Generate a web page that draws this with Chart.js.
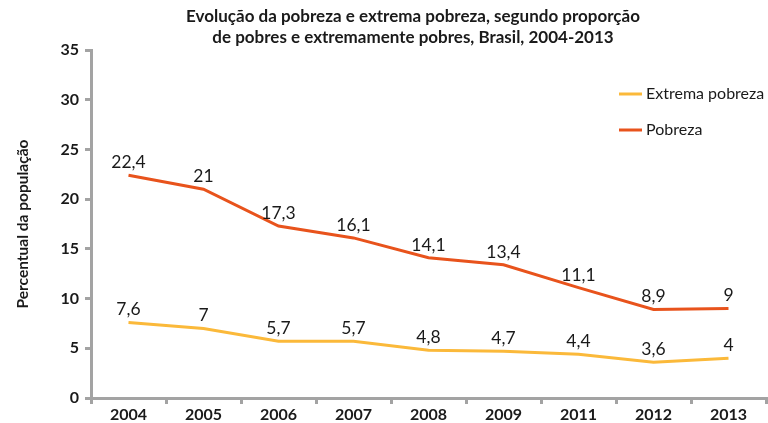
<!DOCTYPE html>
<html>
<head>
<meta charset="utf-8">
<script src="https://cdn.jsdelivr.net/npm/chart.js@4/dist/chart.umd.min.js"></script>
<style>
  body { margin: 0; background: #fff; }
  #wrap { width: 768px; height: 423px; }
</style>
</head>
<body>
<div id="wrap"><canvas id="povertyChart"></canvas></div>
<script>
// Data
const years = ['2004', '2005', '2006', '2007', '2008', '2009', '2011', '2012', '2013'];
const extremaPobreza = [7.6, 7, 5.7, 5.7, 4.8, 4.7, 4.4, 3.6, 4];
const pobreza = [22.4, 21, 17.3, 16.1, 14.1, 13.4, 11.1, 8.9, 9];
const titleLines = [
    'Evolução da pobreza e extrema pobreza, segundo proporção',
    'de pobres e extremamente pobres, Brasil, 2004-2013'
];

const FONT = 'Lato, "Open Sans", sans-serif';
const AXIS_GREY = '#a3a3a3';

// Title drawn centred over the plot, like the original
const titlePlugin = {
    id: 'titleLines',
    afterDraw(chart) {
        const ctx = chart.ctx;
        ctx.save();
        ctx.fillStyle = '#1a1a1a';
        ctx.font = 'bold 17px ' + FONT;
        ctx.textAlign = 'center';
        ctx.textBaseline = 'middle';
        titleLines.forEach((line, i) => {
            ctx.fillText(line, 413, 17 + i * 21);
        });
        ctx.restore();
    }
};

// Value labels above each point
const valueLabels = {
    id: 'valueLabels',
    afterDatasetsDraw(chart) {
        const ctx = chart.ctx;
        ctx.save();
        ctx.fillStyle = '#1a1a1a';
        ctx.font = '17.5px ' + FONT;
        ctx.textAlign = 'center';
        ctx.textBaseline = 'bottom';
        chart.data.datasets.forEach((ds, i) => {
            chart.getDatasetMeta(i).data.forEach((pt, j) => {
                const txt = String(ds.data[j]).replace('.', ',');
                ctx.fillText(txt, pt.x, pt.y - 4);
            });
        });
        ctx.restore();
    }
};

// Legend inside the plot, top right
const legendBox = {
    id: 'legendBox',
    afterDraw(chart) {
        const ctx = chart.ctx;
        ctx.save();
        ctx.font = '16px ' + FONT;
        ctx.textBaseline = 'middle';
        chart.data.datasets.forEach((ds, i) => {
            const y = 94 + i * 36;
            ctx.strokeStyle = ds.borderColor;
            ctx.lineWidth = 3;
            ctx.beginPath();
            ctx.moveTo(619, y);
            ctx.lineTo(642, y);
            ctx.stroke();
            ctx.fillStyle = '#1a1a1a';
            ctx.fillText(ds.label, 646, y);
        });
        ctx.restore();
    }
};

new Chart(document.getElementById('povertyChart'), {
    type: 'line',
    data: {
        labels: years,
        datasets: [{
            label: 'Extrema pobreza',
            data: extremaPobreza,
            borderColor: '#fbb93a',
            borderWidth: 3,
            pointRadius: 0,
            tension: 0
        }, {
            label: 'Pobreza',
            data: pobreza,
            borderColor: '#e8531c',
            borderWidth: 3,
            pointRadius: 0,
            tension: 0
        }]
    },
    options: {
        responsive: true,
        maintainAspectRatio: false,
        animation: false,
        layout: {
            padding: { top: 50, right: 2, left: 0, bottom: 0 }
        },
        plugins: {
            legend: { display: false },
            tooltip: { enabled: false }
        },
        scales: {
            x: {
                offset: true,
                grid: {
                    offset: true,
                    drawOnChartArea: false,
                    drawTicks: true,
                    tickLength: 6,
                    color: AXIS_GREY,
                    lineWidth: 3
                },
                border: { color: AXIS_GREY, width: 3 },
                ticks: {
                    color: '#1a1a1a',
                    font: { family: FONT, size: 16, weight: 'bold' },
                    padding: 1
                },
                afterFit(scale) { scale.height = 25; }
            },
            y: {
                min: 0,
                max: 35,
                grid: {
                    drawOnChartArea: false,
                    drawTicks: true,
                    tickLength: 6,
                    color: AXIS_GREY,
                    lineWidth: 3
                },
                border: { color: AXIS_GREY, width: 3 },
                ticks: {
                    stepSize: 5,
                    color: '#1a1a1a',
                    font: { family: FONT, size: 16, weight: 'bold' },
                    padding: 6
                },
                title: {
                    display: true,
                    text: 'Percentual da população',
                    color: '#1a1a1a',
                    font: { family: FONT, size: 15.5, weight: 'bold' },
                    padding: { top: 14, bottom: 0 }
                },
                afterFit(scale) { scale.width = 91; }
            }
        }
    },
    plugins: [titlePlugin, valueLabels, legendBox]
});
</script>
</body>
</html>
